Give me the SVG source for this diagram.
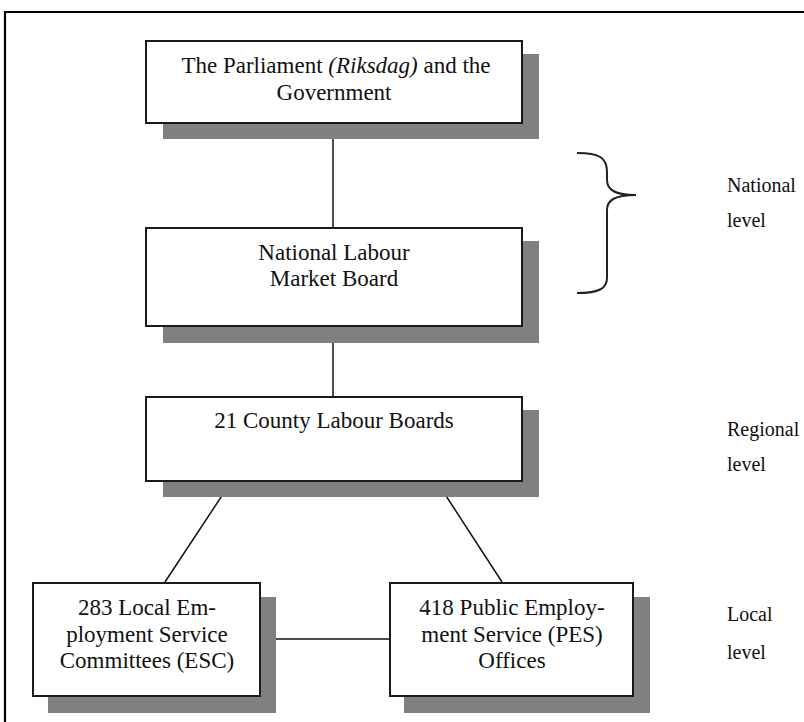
<svg xmlns="http://www.w3.org/2000/svg" width="804" height="722" viewBox="0 0 804 722">
<style>
.shadow{fill:#808080;stroke:none}
.box{fill:#fff;stroke:#1a1a1a;stroke-width:2}
.t{font-family:"Liberation Serif","Times New Roman",serif;font-size:23px;fill:#111;text-anchor:middle}
.lbl{font-family:"Liberation Serif","Times New Roman",serif;font-size:20px;fill:#111}
.conn{stroke:#111;stroke-width:1.5;fill:none}
</style>
<rect x="0" y="0" width="804" height="722" fill="#fff"/>
<path d="M5,722 L5,12 L804,12" fill="none" stroke="#000" stroke-width="2.2"/>
<g id="connectors">
<line class="conn" x1="333" y1="124" x2="333" y2="227"/>
<line class="conn" x1="333" y1="327" x2="333" y2="396"/>
<line class="conn" x1="231" y1="482" x2="165" y2="582"/>
<line class="conn" x1="437" y1="482" x2="502" y2="582"/>
<line class="conn" x1="261" y1="639" x2="389" y2="639"/>
</g>
<g id="parliament">
<rect class="shadow" x="163" y="54" width="376" height="85"/>
<rect class="box" x="146" y="41" width="376" height="82"/>
<text class="t" x="336" y="73">The Parliament <tspan font-style="italic">(Riksdag)</tspan> and the</text>
<text class="t" x="334" y="100">Government</text>
</g>
<g id="national-board">
<rect class="shadow" x="163" y="241" width="376" height="102"/>
<rect class="box" x="146" y="228" width="376" height="98"/>
<text class="t" x="334" y="260">National Labour</text>
<text class="t" x="334" y="286">Market Board</text>
</g>
<g id="county-boards">
<rect class="shadow" x="163" y="410" width="376" height="87"/>
<rect class="box" x="146" y="397" width="376" height="84"/>
<text class="t" x="334" y="428">21 County Labour Boards</text>
</g>
<g id="esc">
<rect class="shadow" x="48" y="597" width="228" height="116"/>
<rect class="box" x="33" y="583" width="227" height="113"/>
<text class="t" x="147" y="615">283 Local Em-</text>
<text class="t" x="147" y="642">ployment Service</text>
<text class="t" x="147" y="668">Committees (ESC)</text>
</g>
<g id="pes">
<rect class="shadow" x="404" y="597" width="246" height="116"/>
<rect class="box" x="390" y="583" width="243" height="113"/>
<text class="t" x="512" y="615">418 Public Employ-</text>
<text class="t" x="512" y="642">ment Service (PES)</text>
<text class="t" x="512" y="668">Offices</text>
</g>
<g id="brace">
<path d="M577,153 C600,153 607,158 607,172 L607,180 C607,190 615,195 636,195 C615,195 607,200 607,210 L607,278 C607,288 600,293 577,293" fill="none" stroke="#222" stroke-width="2"/>
</g>
<g id="levels">
<text class="lbl" x="727" y="192">National</text>
<text class="lbl" x="727" y="227">level</text>
<text class="lbl" x="727" y="436">Regional</text>
<text class="lbl" x="727" y="471">level</text>
<text class="lbl" x="727" y="621">Local</text>
<text class="lbl" x="727" y="659">level</text>
</g>
</svg>
